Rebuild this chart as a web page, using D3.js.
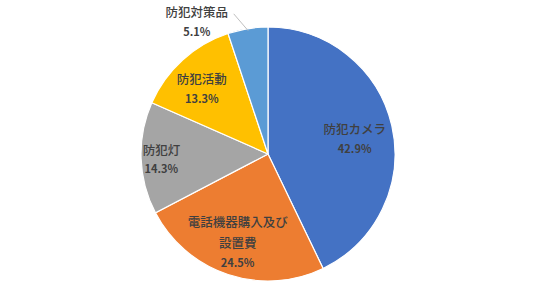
<!DOCTYPE html>
<html lang="ja">
<head>
  <meta charset="UTF-8">
  <title>防犯対策 内訳</title>
  <script src="https://cdn.jsdelivr.net/npm/d3@7"></script>
  <style>
    body { margin: 0; background: #fff; }
    .name { font-family: "Noto Sans CJK JP", sans-serif; font-size: 12.5px; font-weight: 500; fill: #404040; }
    .pct { font-family: "Noto Sans CJK JP", sans-serif; font-size: 11px; font-weight: 700; fill: #404040; }
  </style>
</head>
<body>
  <div id="chart"></div>
  <script>
    // data
    const categories = ["防犯カメラ", "電話機器購入及び設置費", "防犯灯", "防犯活動", "防犯対策品"];
    const values = [42.9, 24.5, 14.3, 13.3, 5.1];
    const labelLines = [["防犯カメラ"], ["電話機器購入及び", "設置費"], ["防犯灯"], ["防犯活動"], ["防犯対策品"]];
    const colors = ["#4472C4", "#ED7D31", "#A5A5A5", "#FFC000", "#5B9BD5"];

    const width = 536, height = 307;
    const cx = 268, cy = 154, radius = 127;

    // label placement: radius factor + small nudge per slice
    const labelRadius = [0.7, 0.76, 0.84, 0.74, 1.05];
    const labelNudge = [[0, 5], [0, -3], [0, 2], [-3, 5], [-50, 0]];

    const svg = d3.select("#chart").append("svg")
      .attr("width", width)
      .attr("height", height);

    const g = svg.append("g").attr("transform", `translate(${cx},${cy})`);

    const pie = d3.pie().sort(null).value(d => d);
    const arcs = pie(values);
    const arc = d3.arc().innerRadius(0).outerRadius(radius);

    g.selectAll("path.slice")
      .data(arcs)
      .enter()
      .append("path")
      .attr("class", "slice")
      .attr("d", arc)
      .attr("fill", (d, i) => colors[i])
      .attr("stroke", "#fff")
      .attr("stroke-width", 1.2);

    const lineH = 21;

    arcs.forEach((d, i) => {
      const a = (d.startAngle + d.endAngle) / 2;
      const r = radius * labelRadius[i];
      const x = Math.sin(a) * r + labelNudge[i][0];
      const y = -Math.cos(a) * r + labelNudge[i][1];
      const lines = labelLines[i];
      const total = lines.length + 1;
      const top = y - (total - 1) * lineH / 2;

      const t = g.append("g");
      lines.forEach((s, j) => {
        t.append("text")
          .attr("class", "name")
          .attr("x", x)
          .attr("y", top + j * lineH)
          .attr("text-anchor", "middle")
          .attr("dominant-baseline", "central")
          .text(s);
      });
      t.append("text")
        .attr("class", "pct")
        .attr("x", x)
        .attr("y", top + lines.length * lineH - 2)
        .attr("text-anchor", "middle")
        .attr("dominant-baseline", "central")
        .text(values[i].toFixed(1) + "%");

      // leader line for the outside label
      if (labelRadius[i] > 1) {
        const ex = Math.sin(a) * (radius - 2), ey = -Math.cos(a) * (radius - 2);
        g.append("path")
          .attr("d", `M${ex},${ey}L${x + 37},${top + 2}`)
          .attr("stroke", "#bfbfbf")
          .attr("fill", "none")
          .attr("stroke-width", 1);
      }
    });
  </script>
</body>
</html>
